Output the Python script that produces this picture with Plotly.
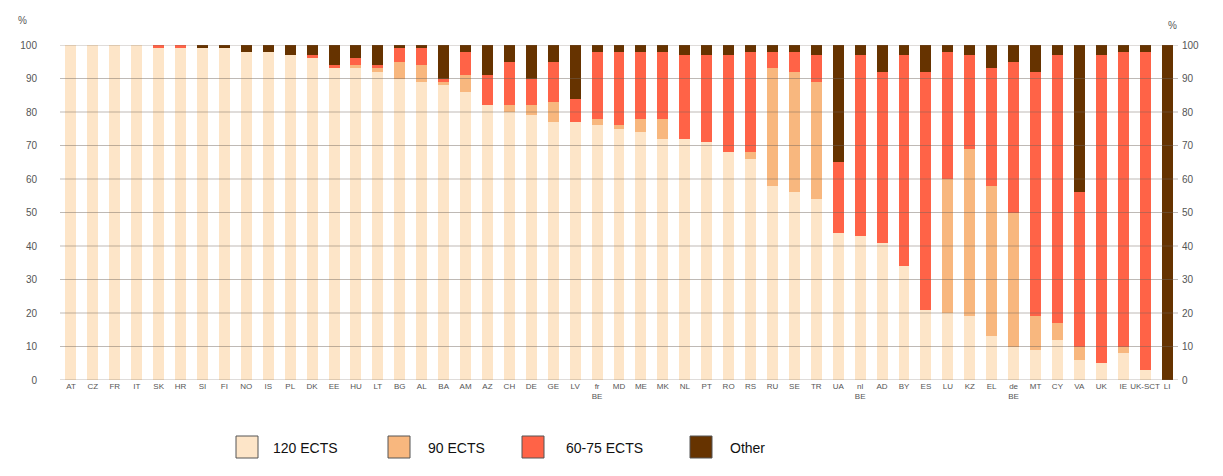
import plotly.graph_objects as go

# ---------------- data ----------------
categories = ["AT", "CZ", "FR", "IT", "SK", "HR", "SI", "FI", "NO", "IS",
              "PL", "DK", "EE", "HU", "LT", "BG", "AL", "BA", "AM", "AZ",
              "CH", "DE", "GE", "LV", "fr<br>BE", "MD", "ME", "MK", "NL", "PT",
              "RO", "RS", "RU", "SE", "TR", "UA", "nl<br>BE", "AD", "BY", "ES",
              "LU", "KZ", "EL", "de<br>BE", "MT", "CY", "VA", "UK", "IE", "UK-SCT",
              "LI"]

ects120 = [100, 100, 100, 100, 99, 99, 99, 99, 98, 98,
           97, 96, 93, 93, 92, 90, 89, 88, 86, 82,
           80, 79, 77, 77, 76, 75, 74, 72, 72, 71,
           68, 66, 58, 56, 54, 44, 43, 41, 34, 21,
           20, 19, 13, 10, 9, 12, 6, 5, 8, 3,
           0]
ects90 = [0, 0, 0, 0, 0, 0, 0, 0, 0, 0,
          0, 0, 0, 1, 1, 5, 5, 1, 5, 0,
          2, 3, 6, 0, 2, 1, 4, 6, 0, 0,
          0, 2, 35, 36, 35, 0, 0, 0, 0, 0,
          40, 50, 45, 40, 10, 5, 4, 0, 2, 0,
          0]
ects6075 = [0, 0, 0, 0, 1, 1, 0, 0, 0, 0,
            0, 1, 1, 2, 1, 4, 5, 1, 7, 9,
            13, 8, 12, 7, 20, 22, 20, 20, 25, 26,
            29, 30, 5, 6, 8, 21, 54, 51, 63, 71,
            38, 28, 35, 45, 73, 80, 46, 92, 88, 95,
            0]
other = [0, 0, 0, 0, 0, 0, 1, 1, 2, 2,
         3, 3, 6, 4, 6, 1, 1, 10, 2, 9,
         5, 10, 5, 16, 2, 2, 2, 2, 3, 3,
         3, 2, 2, 2, 3, 35, 3, 8, 3, 8,
         2, 3, 7, 5, 8, 3, 44, 3, 2, 2,
         100]

series_names = ["120 ECTS", "90 ECTS", "60-75 ECTS", "Other"]
y_ticks = list(range(0, 101, 10))

# ---------------- style ----------------
colors = ["#FDE5C8", "#F8B77E", "#FF6347", "#663300"]
FONT = "Liberation Sans, Arial, sans-serif"
W, H = 1223, 476
PL, PR, PT, PB = 52, 1170, 37, 372


def px_x(px):
    return (px - PL) / (PR - PL)


def px_y(py):
    return (PB - py) / (PB - PT)


fig = go.Figure()
for name, vals, col in zip(series_names, [ects120, ects90, ects6075, other], colors):
    fig.add_trace(go.Bar(x=categories, y=vals, name=name,
                         marker=dict(color=col, line=dict(width=0)),
                         showlegend=False))

# invisible trace to create the right-hand axis
fig.add_trace(go.Scatter(x=[categories[0]], y=[None], yaxis="y2",
                         mode="lines", showlegend=False, hoverinfo="skip"))

shapes = []
for v in y_ticks:
    shapes.append(dict(type="line", xref="paper", yref="y", x0=0, x1=1, y0=v, y1=v,
                       line=dict(color="rgba(110,100,90,0.45)", width=1.2), layer="above"))

# manual legend
legend_items = [(228, 263), (380, 418), (514, 556), (682, 720)]
annotations = []
for (sx, tx), name, col in zip(legend_items, series_names, colors):
    shapes.append(dict(type="rect", xref="paper", yref="paper",
                       x0=px_x(sx), x1=px_x(sx + 22), y0=px_y(450), y1=px_y(428),
                       fillcolor=col, line=dict(color="#555555", width=1)))
    annotations.append(dict(xref="paper", yref="paper", x=px_x(tx), y=px_y(440),
                            xanchor="left", yanchor="middle", text=name, showarrow=False,
                            font=dict(family=FONT, size=14, color="#111111")))

annotations.append(dict(xref="paper", yref="paper", x=px_x(14), y=px_y(12),
                        xanchor="center", yanchor="middle", text="%", showarrow=False,
                        font=dict(family=FONT, size=10, color="#555555")))
annotations.append(dict(xref="paper", yref="paper", x=px_x(1164), y=px_y(18),
                        xanchor="center", yanchor="middle", text="%", showarrow=False,
                        font=dict(family=FONT, size=10, color="#555555")))

n = len(categories)
fig.update_layout(
    width=W, height=H,
    margin=dict(l=PL, r=W - PR, t=PT, b=H - PB, pad=0),
    barmode="stack", bargap=0.5,
    paper_bgcolor="white", plot_bgcolor="white",
    font=dict(family=FONT, size=10, color="#555555"),
    xaxis=dict(type="category", range=[-0.5, n - 0.5], tickangle=0, showgrid=False,
               zeroline=False, tickfont=dict(size=8, color="#555555"), ticks="",
               showline=False),
    yaxis=dict(range=[0, 100], tickvals=y_ticks, showgrid=False, zeroline=False,
               tickfont=dict(size=10, color="#555555"), ticklabelstandoff=22),
    yaxis2=dict(range=[0, 100], tickvals=y_ticks, overlaying="y", side="right",
                showgrid=False, zeroline=False,
                tickfont=dict(size=10, color="#555555"), ticklabelstandoff=3),
    shapes=shapes, annotations=annotations,
)

fig.write_html("out.html")
